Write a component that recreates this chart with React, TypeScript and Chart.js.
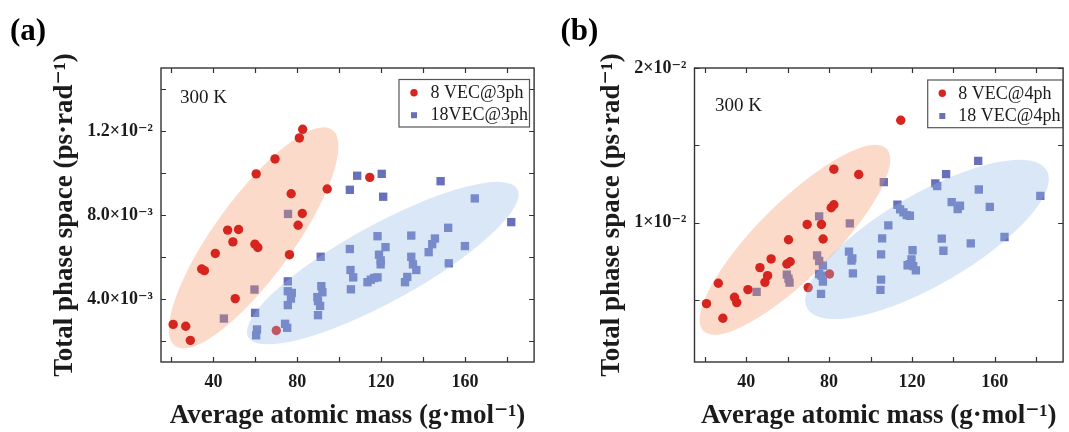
import { useEffect, useRef } from 'react';
import { Chart, registerables } from 'chart.js';

Chart.register(...registerables);

const SERIF = "'Liberation Serif', 'Times New Roman', 'DejaVu Serif', serif";
const INK = '#1b1b1b';
const FRAME = '#333333';
const RED = 'rgb(214, 36, 30)';
const BLUE = 'rgb(104, 112, 188)';
const PEACH_FILL = 'rgba(245, 150, 100, 0.35)';
const SKY_FILL = 'rgba(150, 185, 230, 0.35)';

// Average atomic mass axis, shared by both panels (g/mol)
const MASS_MIN = 15;
const MASS_MAX = 193;
const MASS_TICKS = [20, 40, 60, 80, 100, 120, 140, 160, 180];
const MASS_TICK_LABELS = ['', '40', '', '80', '', '120', '', '160', ''];

// (a) three-phonon phase space, 300 K
const A_8VEC_MASS = [82.6, 81.0, 69.4, 60.4, 114.6, 77.1, 94.3, 82.4, 80.4, 46.8, 52.0, 49.3, 59.8, 61.2, 76.3, 40.9, 34.4, 35.7, 50.4, 20.8, 26.8, 29.0, 70.0];
const A_8VEC_PS = [0.01208, 0.01167, 0.01067, 0.00996, 0.00979, 0.00901, 0.00924, 0.00807, 0.00751, 0.00728, 0.00731, 0.00672, 0.00661, 0.00645, 0.00611, 0.00617, 0.00543, 0.00535, 0.00402, 0.00279, 0.0027, 0.00203, 0.0025];
const A_18VEC_MASS = [108.6, 120.3, 105.1, 121.0, 148.4, 164.7, 182.1, 75.6, 59.6, 45.0, 152.0, 134.4, 118.3, 145.7, 144.4, 160.0, 122.1, 105.1, 142.7, 119.0, 134.4, 91.2, 119.8, 119.8, 135.2, 152.3, 136.8, 105.4, 106.7, 118.3, 116.7, 115.1, 113.5, 132.5, 131.4, 105.6, 75.5, 75.5, 77.4, 77.0, 75.5, 91.5, 92.0, 89.6, 89.9, 90.9, 89.9, 59.9, 60.8, 60.4, 74.2, 75.2];
const A_18VEC_PS = [0.00987, 0.00996, 0.0092, 0.00887, 0.00961, 0.00879, 0.00766, 0.00805, 0.00445, 0.00307, 0.00739, 0.00702, 0.00699, 0.00688, 0.00661, 0.00652, 0.00647, 0.00638, 0.00623, 0.00611, 0.00601, 0.00601, 0.00584, 0.00565, 0.00565, 0.0057, 0.00538, 0.00538, 0.00503, 0.00503, 0.005, 0.00492, 0.0048, 0.00505, 0.0048, 0.00446, 0.00484, 0.00437, 0.00429, 0.00402, 0.00371, 0.00461, 0.00432, 0.00409, 0.0039, 0.00367, 0.00323, 0.00334, 0.00255, 0.00227, 0.00282, 0.00263];
const A_PS_MIN = 0.001;
const A_PS_MAX = 0.015;
const A_PS_TICKS = [0.002, 0.004, 0.006, 0.008, 0.01, 0.012, 0.014];
const A_PS_TICK_LABELS = ['', '4.0×10⁻³', '', '8.0×10⁻³', '', '1.2×10⁻²', ''];

// (b) four-phonon phase space, 300 K
const B_8VEC_MASS = [114.6, 82.3, 94.3, 82.3, 81.0, 69.4, 76.3, 60.4, 77.1, 52.0, 61.2, 59.6, 46.6, 50.3, 49.0, 26.5, 40.8, 34.3, 35.4, 20.8, 28.7, 69.9, 80.2];
const B_8VEC_PS = [0.01662, 0.01346, 0.01312, 0.01116, 0.01097, 0.00989, 0.00989, 0.0089, 0.00895, 0.00766, 0.00748, 0.00733, 0.0071, 0.00658, 0.00615, 0.00609, 0.00568, 0.00518, 0.00484, 0.00477, 0.00383, 0.00581, 0.00669];
const B_18VEC_MASS = [152.0, 136.5, 106.4, 131.3, 132.2, 152.3, 182.0, 139.2, 143.2, 142.1, 157.6, 113.0, 114.3, 115.9, 117.5, 119.0, 75.2, 90.0, 108.6, 105.6, 134.4, 164.7, 135.2, 148.4, 120.3, 89.6, 91.2, 90.8, 105.1, 119.8, 119.0, 117.9, 120.6, 121.9, 91.5, 105.1, 104.8, 74.2, 75.2, 77.0, 75.2, 76.3, 77.0, 76.1, 59.6, 60.4, 60.9, 45.0];
const B_18VEC_PS = [0.014, 0.01314, 0.01262, 0.01254, 0.01237, 0.01215, 0.01174, 0.01133, 0.0111, 0.01088, 0.01103, 0.01116, 0.01086, 0.01067, 0.01049, 0.01045, 0.01041, 0.00996, 0.00983, 0.00899, 0.00897, 0.00908, 0.00819, 0.00867, 0.00822, 0.00813, 0.0077, 0.00755, 0.00796, 0.00763, 0.00733, 0.00725, 0.0072, 0.00692, 0.00673, 0.00632, 0.00566, 0.00789, 0.00753, 0.00723, 0.00669, 0.00658, 0.00619, 0.0054, 0.00665, 0.00639, 0.00613, 0.00553];
const B_PS_MIN = 0.001;
const B_PS_MAX = 0.02;
const B_PS_TICKS = [0.005, 0.01, 0.015, 0.02];
const B_PS_TICK_LABELS = ['', '1×10⁻²', '', '2×10⁻²'];

type Shade = { cx: number; cy: number; tipX: number; tipY: number; ratio: number; fill: string; afterDataset: number };

type PanelSpec = {
  letter: string;
  letterX: number;
  canvasLeft: number;
  canvasWidth: number;
  padLeft: number;
  padRight: number;
  yAxisWidth: number;
  redLabel: string;
  blueLabel: string;
  redX: number[];
  redY: number[];
  blueX: number[];
  blueY: number[];
  yMin: number;
  yMax: number;
  yTicks: number[];
  yTickLabels: string[];
  shades: Shade[];
  tempX: number;
  tempY: number;
  legend: { x: number; y: number; w: number; h: number; markerX: number; textX: number; rows: number[] };
};

const PANELS: PanelSpec[] = [
  {
    letter: '(a)',
    letterX: 10,
    canvasLeft: 0,
    canvasWidth: 540,
    padLeft: 38,
    padRight: 4,
    yAxisWidth: 123,
    redLabel: '8 VEC@3ph',
    blueLabel: '18VEC@3ph',
    redX: A_8VEC_MASS,
    redY: A_8VEC_PS,
    blueX: A_18VEC_MASS,
    blueY: A_18VEC_PS,
    yMin: A_PS_MIN,
    yMax: A_PS_MAX,
    yTicks: A_PS_TICKS,
    yTickLabels: A_PS_TICK_LABELS,
    shades: [
      { cx: 59.2, cy: 0.00691, tipX: 96.7, tipY: 0.01206, ratio: 0.295, fill: PEACH_FILL, afterDataset: 1 },
      { cx: 120.8, cy: 0.00571, tipX: 185.0, tipY: 0.00923, ratio: 0.25, fill: SKY_FILL, afterDataset: 0 },
    ],
    tempX: 180,
    tempY: 103,
    legend: { x: 399, y: 79.5, w: 130.5, h: 47.5, markerX: 414, textX: 430.5, rows: [92.7, 115.2] },
  },
  {
    letter: '(b)',
    letterX: 20.5,
    canvasLeft: 540,
    canvasWidth: 529,
    padLeft: 45,
    padRight: 1,
    yAxisWidth: 109.5,
    redLabel: '8 VEC@4ph',
    blueLabel: '18 VEC@4ph',
    redX: B_8VEC_MASS,
    redY: B_8VEC_PS,
    blueX: B_18VEC_MASS,
    blueY: B_18VEC_PS,
    yMin: B_PS_MIN,
    yMax: B_PS_MAX,
    yTicks: B_PS_TICKS,
    yTickLabels: B_PS_TICK_LABELS,
    shades: [
      { cx: 63.5, cy: 0.0089, tipX: 107.7, tipY: 0.01479, ratio: 0.292, fill: PEACH_FILL, afterDataset: 1 },
      { cx: 127.3, cy: 0.00892, tipX: 185.1, tipY: 0.01339, ratio: 0.33, fill: SKY_FILL, afterDataset: 0 },
    ],
    tempX: 175,
    tempY: 111,
    legend: { x: 387.7, y: 80, w: 135, h: 47.7, markerX: 402.3, textX: 418.3, rows: [93.3, 116] },
  },
];

const zip = (xs: number[], ys: number[]) => xs.map((x, i) => ({ x, y: ys[i] }));

function makeDecor(spec: PanelSpec) {
  const drawShade = (chart: Chart, s: Shade) => {
    const { ctx, chartArea } = chart;
    const xs = chart.scales.x;
    const ys = chart.scales.y;
    const cx = xs.getPixelForValue(s.cx);
    const cy = ys.getPixelForValue(s.cy);
    const tx = xs.getPixelForValue(s.tipX);
    const ty = ys.getPixelForValue(s.tipY);
    const a = Math.hypot(tx - cx, ty - cy);
    const ang = Math.atan2(ty - cy, tx - cx);
    ctx.save();
    ctx.beginPath();
    ctx.rect(chartArea.left, chartArea.top, chartArea.right - chartArea.left, chartArea.bottom - chartArea.top);
    ctx.clip();
    ctx.beginPath();
    ctx.ellipse(cx, cy, a, a * s.ratio, ang, 0, Math.PI * 2);
    ctx.fillStyle = s.fill;
    ctx.fill();
    ctx.restore();
  };

  return {
    id: 'panelDecor',
    afterDatasetDraw(chart: Chart, args: { index: number }) {
      spec.shades.filter((s) => s.afterDataset === args.index).forEach((s) => drawShade(chart, s));
    },
    afterDraw(chart: Chart) {
      const { ctx, chartArea } = chart;
      const { left, right, top, bottom } = chartArea;
      const xs = chart.scales.x;
      const ys = chart.scales.y;
      ctx.save();
      // inward tick marks on all four sides
      ctx.strokeStyle = FRAME;
      ctx.lineWidth = 1.2;
      ctx.beginPath();
      xs.ticks.forEach((t) => {
        const x = Math.round(xs.getPixelForValue(t.value)) + 0.5;
        ctx.moveTo(x, bottom);
        ctx.lineTo(x, bottom - 5);
        ctx.moveTo(x, top);
        ctx.lineTo(x, top + 5);
      });
      ys.ticks.forEach((t) => {
        const y = Math.round(ys.getPixelForValue(t.value)) + 0.5;
        ctx.moveTo(left, y);
        ctx.lineTo(left + 5, y);
        ctx.moveTo(right, y);
        ctx.lineTo(right - 5, y);
      });
      ctx.stroke();
      ctx.lineWidth = 1.4;
      ctx.strokeRect(left, top, right - left, bottom - top);

      // temperature note
      ctx.fillStyle = INK;
      ctx.font = `19px ${SERIF}`;
      ctx.textBaseline = 'alphabetic';
      ctx.textAlign = 'left';
      ctx.fillText('300 K', spec.tempX, spec.tempY);

      // legend box
      const L = spec.legend;
      ctx.fillStyle = '#ffffff';
      ctx.fillRect(L.x, L.y, L.w, L.h);
      ctx.strokeStyle = '#555555';
      ctx.lineWidth = 1.2;
      ctx.strokeRect(L.x, L.y, L.w, L.h);
      chart.data.datasets.forEach((ds: any, i: number) => {
        const cy = L.rows[i];
        ctx.fillStyle = ds.backgroundColor;
        ctx.beginPath();
        if (ds.pointStyle === 'rect') {
          ctx.rect(L.markerX - 3, cy - 3, 6, 6);
        } else {
          ctx.arc(L.markerX, cy, 3.7, 0, Math.PI * 2);
        }
        ctx.fill();
        ctx.fillStyle = INK;
        ctx.font = `18px ${SERIF}`;
        ctx.textBaseline = 'middle';
        ctx.fillText(ds.label, L.textX, cy + 0.5);
      });

      // panel letter
      ctx.font = `bold 31px ${SERIF}`;
      ctx.textBaseline = 'middle';
      ctx.fillStyle = '#000000';
      ctx.fillText(spec.letter, spec.letterX, 32);
      ctx.restore();
    },
  };
}

function buildConfig(spec: PanelSpec): any {
  return {
    type: 'scatter',
    data: {
      datasets: [
        {
          label: spec.redLabel,
          data: zip(spec.redX, spec.redY),
          pointStyle: 'circle',
          pointRadius: 4.7,
          backgroundColor: RED,
          pointBackgroundColor: RED,
          pointBorderWidth: 0,
          borderWidth: 0,
        },
        {
          label: spec.blueLabel,
          data: zip(spec.blueX, spec.blueY),
          pointStyle: 'rect',
          pointRadius: 5.9,
          backgroundColor: BLUE,
          pointBackgroundColor: BLUE,
          pointBorderWidth: 0,
          borderWidth: 0,
        },
      ],
    },
    options: {
      animation: false,
      responsive: false,
      maintainAspectRatio: false,
      events: [],
      layout: { padding: { left: spec.padLeft, right: spec.padRight, top: 68, bottom: 0 } },
      plugins: { legend: { display: false }, tooltip: { enabled: false } },
      scales: {
        x: {
          type: 'linear',
          min: MASS_MIN,
          max: MASS_MAX,
          afterBuildTicks: (axis: any) => {
            axis.ticks = MASS_TICKS.map((v) => ({ value: v }));
          },
          afterFit: (axis: any) => {
            axis.height = 70;
          },
          grid: { display: false, drawTicks: false },
          border: { display: false },
          ticks: {
            autoSkip: false,
            maxRotation: 0,
            padding: 10,
            color: INK,
            font: { family: SERIF, size: 18, weight: 'bold' },
            callback: (_v: number, i: number) => MASS_TICK_LABELS[i],
          },
          title: {
            display: true,
            text: 'Average atomic mass (g·mol⁻¹)',
            color: INK,
            font: { family: SERIF, size: 27, weight: 'bold' },
            padding: { top: 0, bottom: 0 },
          },
        },
        y: {
          type: 'linear',
          min: spec.yMin,
          max: spec.yMax,
          afterBuildTicks: (axis: any) => {
            axis.ticks = spec.yTicks.map((v) => ({ value: v }));
          },
          afterFit: (axis: any) => {
            axis.width = spec.yAxisWidth;
          },
          grid: { display: false, drawTicks: false },
          border: { display: false },
          ticks: {
            autoSkip: false,
            padding: 8,
            color: INK,
            font: { family: SERIF, size: 18, weight: 'bold' },
            callback: (_v: number, i: number) => spec.yTickLabels[i],
          },
          title: {
            display: true,
            text: 'Total phase space (ps·rad⁻¹)',
            color: INK,
            font: { family: SERIF, size: 27, weight: 'bold' },
            padding: { top: 10.5, bottom: 0 },
          },
        },
      },
    },
    plugins: [makeDecor(spec)],
  };
}

function Panel({ spec }: { spec: PanelSpec }) {
  const ref = useRef<HTMLCanvasElement>(null);
  useEffect(() => {
    if (!ref.current) return;
    const chart = new Chart(ref.current, buildConfig(spec));
    return () => chart.destroy();
  }, [spec]);
  return (
    <canvas
      ref={ref}
      width={spec.canvasWidth}
      height={432}
      style={{ position: 'absolute', left: spec.canvasLeft, top: 0, width: spec.canvasWidth, height: 432 }}
    />
  );
}

export default function App() {
  return (
    <div style={{ position: 'fixed', left: 0, top: 0, width: 1069, height: 432, background: '#ffffff', overflow: 'hidden' }}>
      {PANELS.map((p) => (
        <Panel key={p.letter} spec={p} />
      ))}
    </div>
  );
}
